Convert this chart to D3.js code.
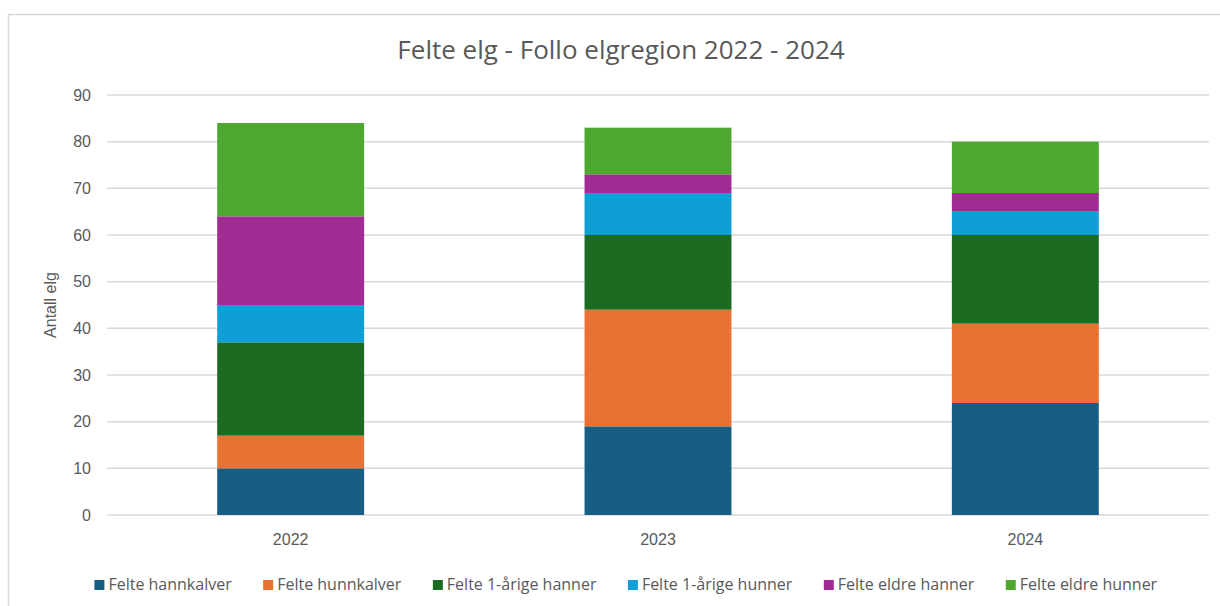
<!DOCTYPE html>
<html>
<head>
<meta charset="utf-8">
<script src="https://cdn.jsdelivr.net/npm/d3@7"></script>
<style>
  body { margin: 0; background: #fff; }
  #chart { width: 1220px; height: 606px; }
</style>
</head>
<body>
<div id="chart"></div>
<script>
var years = ["2022", "2023", "2024"];
var seriesNames = ["Felte hannkalver", "Felte hunnkalver", "Felte 1-årige hanner",
    "Felte 1-årige hunner", "Felte eldre hanner", "Felte eldre hunner"];
var hannkalver = [10, 19, 24];
var hunnkalver = [7, 25, 17];
var aarigeHanner = [20, 16, 19];
var aarigeHunner = [8, 9, 5];
var eldreHanner = [19, 4, 4];
var eldreHunner = [20, 10, 11];
var yTicks = [0, 10, 20, 30, 40, 50, 60, 70, 80, 90];
var colors = ["#175e82", "#e97132", "#1b6b23", "#0f9ed5", "#a02b93", "#4ea72e"];

var values = [hannkalver, hunnkalver, aarigeHanner, aarigeHunner, eldreHanner, eldreHunner];

const width = 1220, height = 606;
const margin = {left: 107, right: 11, top: 95, bottom: 91};

var svg = d3.select("#chart").append("svg")
    .attr("width", width)
    .attr("height", height);

// chart frame
svg.append("rect")
    .attr("x", 8.5).attr("y", 14.5)
    .attr("width", 1230).attr("height", 620)
    .attr("fill", "none")
    .attr("stroke", "#d9d9d9")
    .attr("stroke-width", 1.5);

svg.append("text")
    .attr("x", 621).attr("y", 59)
    .attr("text-anchor", "middle")
    .style("font-family", "'Open Sans', sans-serif")
    .style("font-size", "26px")
    .style("fill", "#595959")
    .text("Felte elg - Follo elgregion 2022 - 2024");

var x = d3.scaleBand()
    .domain(years)
    .range([margin.left, width - margin.right])
    .paddingInner(0.6)
    .paddingOuter(0.3);

var y = d3.scaleLinear()
    .domain([0, 90])
    .range([height - margin.bottom, margin.top]);

// gridlines
svg.append("g")
    .selectAll("line")
    .data(yTicks)
    .enter().append("line")
    .attr("x1", margin.left)
    .attr("x2", width - margin.right)
    .attr("y1", d => y(d))
    .attr("y2", d => y(d))
    .attr("stroke", "#d9d9d9")
    .attr("stroke-width", 1.5);

var yAxis = svg.append("g")
    .attr("transform", "translate(" + (margin.left - 16) + ",0)")
    .call(d3.axisLeft(y).tickValues(yTicks).tickSize(0).tickPadding(0));
yAxis.select(".domain").remove();
yAxis.selectAll("text")
    .style("font-family", "'Liberation Sans', Arial, sans-serif")
    .style("font-size", "16px")
    .style("fill", "#595959");

var xAxis = svg.append("g")
    .attr("transform", "translate(0," + y(0) + ")")
    .call(d3.axisBottom(x).tickSize(0).tickPadding(19));
xAxis.select(".domain").remove();
xAxis.selectAll("text")
    .style("font-family", "'Liberation Sans', Arial, sans-serif")
    .style("font-size", "16px")
    .style("fill", "#595959");

svg.append("text")
    .attr("transform", "translate(56," + y(45) + ") rotate(-90)")
    .attr("text-anchor", "middle")
    .style("font-family", "'Liberation Sans', Arial, sans-serif")
    .style("font-size", "16px")
    .style("fill", "#595959")
    .text("Antall elg");

// stacked bars
var table = years.map(function (yr, i) {
    var row = {year: yr};
    seriesNames.forEach(function (s, j) { row[s] = values[j][i]; });
    return row;
});
var stack = d3.stack().keys(seriesNames)(table);

svg.append("g")
    .selectAll("g")
    .data(stack)
    .enter().append("g")
    .attr("fill", (d, i) => colors[i])
    .selectAll("rect")
    .data(d => d)
    .enter().append("rect")
    .attr("x", d => x(d.data.year))
    .attr("width", x.bandwidth())
    .attr("y", d => y(d[1]))
    .attr("height", d => y(d[0]) - y(d[1]));

// legend
var legend = svg.append("g");
var items = legend.selectAll("g")
    .data(seriesNames)
    .enter().append("g");
items.append("rect")
    .attr("width", 10).attr("height", 10)
    .attr("y", -10)
    .attr("fill", (d, i) => colors[i]);
items.append("text")
    .attr("x", 14)
    .attr("y", 0)
    .style("font-family", "'Open Sans', sans-serif")
    .style("font-size", "16px")
    .style("fill", "#595959")
    .text(d => d);

var gap = 31;
var pos = 0;
items.each(function () {
    var w = this.getBBox().width;
    d3.select(this).attr("transform", "translate(" + pos + ",0)");
    pos += w + gap;
});
pos -= gap;
legend.attr("transform", "translate(" + (626 - pos / 2) + ",590)");
</script>
</body>
</html>
